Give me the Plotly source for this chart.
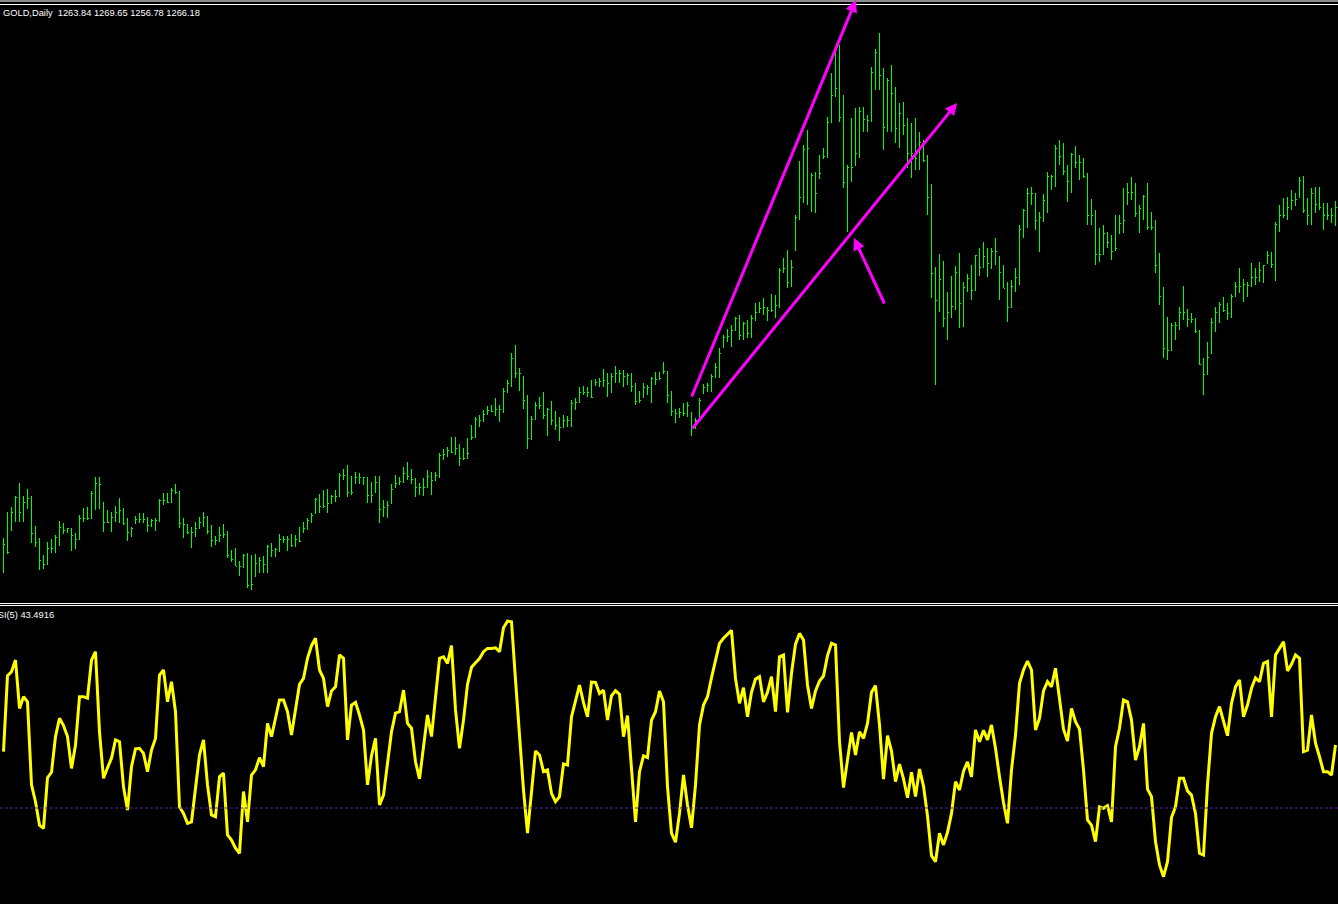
import plotly.graph_objects as go

# ---------------- data ----------------
symbol_label = "GOLD,Daily"
header_ohlc = ["1263.84", "1269.65", "1256.78", "1266.18"]
rsi_name = "RSI(5)"
rsi_last = "43.4916"
rsi_level = 30

open_ = [1096, 1098, 1105, 1114, 1121.5, 1114, 1119, 1121, 1103.5, 1099,
         1090, 1088, 1096, 1096, 1101.5, 1106.5, 1105, 1106, 1102.5, 1100.5,
         1111, 1111, 1111, 1123.5, 1128.5, 1119, 1109, 1109, 1111.5, 1114,
         1115, 1108.5, 1104, 1108.5, 1110.5, 1110.5, 1110.5, 1107.5, 1110, 1110,
         1120, 1120, 1119, 1125, 1124, 1108.5, 1108, 1104, 1104, 1106,
         1109, 1111.5, 1104.5, 1100, 1100, 1102.5, 1103, 1092.5, 1090.5, 1087,
         1087, 1092.5, 1077.5, 1082, 1088.5, 1090, 1088, 1097, 1095, 1095.5,
         1100.5, 1100.5, 1100.5, 1097.5, 1100.5, 1104, 1106, 1110, 1113.5, 1120.5,
         1117, 1117, 1118.5, 1122, 1122, 1132.5, 1132.5, 1124, 1128.5, 1131.5,
         1131.5, 1131.5, 1122.5, 1124, 1129, 1115.5, 1116.5, 1118.5, 1126.5, 1128.5,
         1129.5, 1133.5, 1132, 1130.5, 1126.5, 1126.5, 1126.5, 1132, 1130, 1132.5,
         1142.5, 1143, 1145, 1144, 1146, 1141, 1141, 1150.5, 1151.5, 1160.5,
         1160, 1163, 1165, 1164.5, 1165.5, 1165.5, 1174.5, 1178.5, 1191, 1183.5,
         1182, 1170, 1151, 1160.5, 1167.5, 1167.5, 1162.5, 1165.5, 1160, 1157.5,
         1156.5, 1160, 1160, 1168.5, 1169, 1174, 1174, 1174, 1177.5, 1179,
         1179.5, 1180, 1178.5, 1182, 1183.5, 1183.5, 1182, 1182.5, 1177, 1169.5,
         1171.5, 1176.5, 1176.5, 1181, 1180.5, 1183.5, 1184.5, 1172.5, 1164.5, 1163.5,
         1164, 1163.5, 1164, 1156.5, 1160, 1173.5, 1176.5, 1177.5, 1182, 1186.5,
         1196.5, 1201.5, 1202, 1205, 1211, 1202.5, 1208.5, 1203.5, 1211, 1214,
         1216, 1216.5, 1215, 1215, 1217.5, 1235, 1236, 1229, 1245, 1261.5,
         1271.5, 1295.5, 1283.5, 1282.5, 1281, 1291, 1292, 1309, 1322.5, 1326,
         1311.5, 1279, 1286.5, 1287.5, 1293.5, 1314.5, 1310.5, 1310, 1334, 1344,
         1332.5, 1306.5, 1330, 1323.5, 1306, 1313.5, 1307.5, 1293.5, 1293.5, 1291,
         1299, 1290, 1271.5, 1233.5, 1220, 1230.5, 1211, 1214, 1217, 1234,
         1218.5, 1226.5, 1231, 1225, 1242.5, 1236.5, 1242, 1238.5, 1244.5, 1242,
         1234, 1226, 1216.5, 1227, 1231.5, 1255.5, 1265, 1273.5, 1273.5, 1260,
         1261.5, 1270, 1282, 1282, 1296, 1292, 1284.5, 1279.5, 1293, 1289,
         1289, 1282, 1262.5, 1262.5, 1243, 1243, 1253.5, 1249, 1245, 1253.5,
         1258.5, 1268, 1274, 1274, 1263.5, 1266, 1272, 1256.5, 1256.5, 1237.5,
         1222, 1196, 1195, 1207.5, 1207.5, 1214, 1214, 1210.5, 1210.5, 1204.5,
         1188, 1183, 1193.5, 1209, 1214, 1218, 1215, 1213.5, 1222, 1227,
         1227, 1228, 1227.5, 1231.5, 1231.5, 1235, 1238.5, 1242.5, 1238, 1258,
         1262.5, 1262.5, 1266.5, 1270, 1271.5, 1280, 1265, 1262.5, 1273.5, 1268,
         1266.5, 1262.5, 1262.5, 1263.84]

high = [1101, 1114, 1116.5, 1122, 1128.5, 1122, 1125.5, 1122, 1107, 1101,
        1092.5, 1099, 1100.5, 1102.5, 1109.5, 1108.5, 1106, 1106, 1103.5, 1112.5,
        1116, 1116.5, 1124.5, 1131.5, 1131.5, 1119, 1115, 1114, 1117, 1121,
        1116, 1111, 1106.5, 1112, 1113.5, 1113.5, 1111.5, 1110.5, 1111, 1120.5,
        1123.5, 1123.5, 1126, 1128, 1124.5, 1111, 1108, 1106.5, 1109, 1111.5,
        1114, 1112, 1107.5, 1102, 1106.5, 1108, 1104.5, 1095, 1096, 1089.5,
        1093, 1093.5, 1092.5, 1093, 1091.5, 1092, 1097.5, 1098.5, 1096, 1103,
        1102, 1102, 1103, 1102.5, 1106.5, 1109, 1111, 1113.5, 1121, 1123,
        1125, 1125.5, 1122.5, 1125, 1133.5, 1135.5, 1137.5, 1132, 1134, 1133.5,
        1131.5, 1131.5, 1129, 1132, 1132, 1120, 1119.5, 1128, 1132.5, 1131.5,
        1136.5, 1139, 1135.5, 1131, 1128.5, 1131, 1135, 1134, 1134, 1143.5,
        1145.5, 1146.5, 1151.5, 1151.5, 1148, 1146, 1151, 1157.5, 1161.5, 1162.5,
        1165, 1167, 1167.5, 1171, 1167.5, 1176, 1180, 1193.5, 1197.5, 1186,
        1182, 1172.5, 1162, 1169, 1171.5, 1174, 1166, 1169.5, 1164.5, 1161.5,
        1162.5, 1162, 1170, 1171, 1176.5, 1177, 1176.5, 1180, 1180.5, 1181,
        1185.5, 1183.5, 1183.5, 1187, 1185, 1185, 1183.5, 1183.5, 1178.5, 1174.5,
        1178.5, 1177.5, 1181.5, 1184, 1184, 1189, 1184.5, 1174.5, 1165.5, 1166,
        1168.5, 1169, 1164, 1161, 1171, 1178, 1178.5, 1183, 1188.5, 1196,
        1202.5, 1205.5, 1207.5, 1211.5, 1212.5, 1209, 1210, 1212.5, 1218.5, 1219,
        1221, 1216.5, 1223, 1222.5, 1236, 1241, 1245, 1240, 1262.5, 1289.5,
        1297.5, 1305, 1283.5, 1284, 1292.5, 1296, 1311.5, 1333.5, 1343.5, 1347.5,
        1322.5, 1287.5, 1311, 1316, 1316.5, 1316.5, 1312.5, 1336.5, 1345.5, 1353.5,
        1336, 1331, 1337.5, 1326.5, 1318.5, 1319, 1311, 1308.5, 1311, 1304,
        1300, 1292.5, 1278, 1236.5, 1243, 1239.5, 1224, 1232, 1237, 1243.5,
        1229, 1233, 1237.5, 1242.5, 1246, 1249, 1246, 1246, 1251, 1242,
        1237.5, 1229, 1230, 1236, 1257.5, 1265.5, 1276, 1276.5, 1273.5, 1264,
        1273, 1284, 1282.5, 1297.5, 1300, 1298.5, 1287.5, 1293.5, 1297, 1292.5,
        1291, 1283.5, 1270.5, 1265, 1256, 1257.5, 1254, 1252.5, 1262.5, 1262.5,
        1276, 1278.5, 1281.5, 1278.5, 1267.5, 1272.5, 1278.5, 1264, 1260, 1243.5,
        1226.5, 1211.5, 1208.5, 1209, 1216.5, 1227, 1215.5, 1213.5, 1211, 1205,
        1191, 1199, 1211, 1216.5, 1219, 1221.5, 1218.5, 1223, 1229, 1236,
        1230.5, 1229, 1238.5, 1236, 1239, 1237.5, 1244.5, 1244, 1259, 1267.5,
        1271, 1271.5, 1275, 1273.5, 1281.5, 1282, 1271, 1276, 1276.5, 1276.5,
        1268.5, 1268.5, 1266, 1269.65]

low = [1083.5, 1093, 1105, 1109, 1109, 1109, 1115.5, 1098.5, 1096.5, 1085,
       1085.5, 1088, 1093.5, 1093.5, 1097, 1103, 1103.5, 1094.5, 1095.5, 1100,
       1109, 1110, 1110.5, 1115, 1115.5, 1104, 1108.5, 1104, 1109, 1108.5,
       1107.5, 1099.5, 1101.5, 1108.5, 1108.5, 1108.5, 1104, 1106.5, 1104.5, 1109,
       1117.5, 1118.5, 1119, 1123, 1106, 1101, 1103, 1096, 1101.5, 1106,
       1106.5, 1103, 1096.5, 1097.5, 1099, 1101, 1091, 1089, 1087, 1082,
       1086, 1076, 1075, 1082, 1083.5, 1083.5, 1083.5, 1091.5, 1091.5, 1094,
       1098.5, 1094.5, 1096.5, 1096.5, 1099, 1104, 1105, 1108.5, 1113.5, 1113.5,
       1116, 1113.5, 1118.5, 1119, 1121.5, 1130, 1121.5, 1122.5, 1128.5, 1128,
       1127.5, 1118.5, 1118.5, 1124, 1108.5, 1111.5, 1111, 1118.5, 1126.5, 1127.5,
       1128.5, 1130, 1128, 1121.5, 1122.5, 1122, 1126.5, 1122.5, 1130, 1131,
       1140, 1141.5, 1143.5, 1142.5, 1137, 1140, 1141, 1150.5, 1151.5, 1156.5,
       1159, 1162.5, 1164, 1162, 1159, 1163.5, 1173.5, 1176.5, 1181, 1174.5,
       1165.5, 1145.5, 1150, 1160, 1165.5, 1160.5, 1152, 1157.5, 1155, 1149.5,
       1156.5, 1156.5, 1156.5, 1165, 1168.5, 1172.5, 1171.5, 1171, 1177.5, 1176.5,
       1176.5, 1171.5, 1173.5, 1178.5, 1178.5, 1176.5, 1177.5, 1174, 1167.5, 1168.5,
       1171.5, 1172.5, 1168.5, 1177.5, 1180.5, 1183.5, 1168.5, 1162, 1158.5, 1161,
       1162, 1161.5, 1152, 1155.5, 1160, 1173.5, 1174, 1174, 1181, 1181,
       1196.5, 1199, 1196.5, 1205, 1200, 1200, 1201, 1201, 1209.5, 1213.5,
       1212.5, 1209.5, 1214, 1211, 1216, 1233.5, 1226, 1226.5, 1245, 1260,
       1268.5, 1267.5, 1264, 1263.5, 1281, 1291, 1291, 1309, 1321.5, 1309,
       1276, 1254, 1279, 1287.5, 1291, 1304, 1304, 1309, 1325, 1325,
       1295, 1304, 1304, 1298.5, 1296, 1302.5, 1286, 1281, 1285, 1285,
       1289, 1262.5, 1221, 1177.5, 1214, 1206.5, 1200, 1211, 1215, 1206,
       1206.5, 1224, 1220, 1225, 1232, 1236, 1231.5, 1235.5, 1237.5, 1220,
       1226, 1209, 1216.5, 1224, 1227.5, 1251, 1256, 1267.5, 1255, 1244,
       1259, 1263.5, 1275, 1276.5, 1287.5, 1282.5, 1269, 1273.5, 1286, 1280,
       1281, 1257.5, 1257.5, 1237.5, 1239, 1242.5, 1246, 1240, 1245, 1253.5,
       1253.5, 1268, 1270, 1261.5, 1253.5, 1260, 1255, 1255, 1233.5, 1217.5,
       1191, 1190, 1195, 1200, 1205, 1210, 1206.5, 1208.5, 1203.5, 1187.5,
       1172.5, 1182.5, 1193.5, 1204, 1208.5, 1214, 1210, 1211, 1221.5, 1223.5,
       1219, 1221.5, 1226.5, 1227.5, 1229, 1228.5, 1238.5, 1236, 1229.5, 1254,
       1261, 1260, 1265, 1267, 1271.5, 1263.5, 1257.5, 1257.5, 1263.5, 1265,
       1255, 1260, 1258.5, 1256.78]

close = [1098, 1094, 1114, 1121.5, 1114, 1119, 1121, 1103.5, 1099, 1090,
         1088, 1096, 1096, 1101.5, 1106.5, 1105, 1106, 1102.5, 1100.5, 1111,
         1111, 1111, 1123.5, 1128.5, 1128, 1109, 1109, 1111.5, 1114, 1115,
         1108.5, 1104, 1106, 1110.5, 1110.5, 1110.5, 1107.5, 1110, 1110, 1120,
         1120, 1119, 1125, 1124, 1108.5, 1108, 1104, 1104, 1106, 1109,
         1111.5, 1104.5, 1100, 1100, 1102.5, 1103, 1092.5, 1090.5, 1087, 1087,
         1092.5, 1077.5, 1078, 1088.5, 1090, 1088, 1097, 1095, 1095.5, 1100.5,
         1100.5, 1100.5, 1097.5, 1100.5, 1099.5, 1106, 1110, 1112.5, 1120.5, 1117,
         1117, 1118.5, 1122, 1122, 1132.5, 1132.5, 1124, 1124, 1131.5, 1131.5,
         1131.5, 1122.5, 1122.5, 1129, 1115.5, 1116.5, 1117.5, 1125.5, 1128.5, 1129.5,
         1133.5, 1132, 1130.5, 1126.5, 1126.5, 1126.5, 1132, 1130, 1132.5, 1142.5,
         1143, 1145, 1144, 1146, 1141, 1141, 1143.5, 1151.5, 1160.5, 1160,
         1163, 1165, 1164.5, 1165.5, 1165.5, 1174.5, 1178.5, 1191, 1183.5, 1183.5,
         1170, 1151, 1160.5, 1167.5, 1167.5, 1162.5, 1165.5, 1160, 1157.5, 1156.5,
         1160, 1160, 1168.5, 1169, 1174, 1174, 1174, 1171.5, 1179, 1179.5,
         1180, 1178.5, 1182, 1183.5, 1183.5, 1182, 1182.5, 1177, 1169.5, 1170,
         1176.5, 1176.5, 1181, 1180.5, 1181, 1184.5, 1172.5, 1164.5, 1163.5, 1164,
         1163.5, 1167.5, 1156.5, 1160, 1170, 1176.5, 1177.5, 1182, 1186.5, 1193.5,
         1201.5, 1202, 1205, 1211, 1202.5, 1208.5, 1203.5, 1211, 1214, 1216,
         1216.5, 1215, 1215, 1217.5, 1235, 1236, 1229, 1236.5, 1261.5, 1271.5,
         1295.5, 1296, 1282.5, 1273.5, 1283.5, 1292, 1309, 1322.5, 1326, 1311.5,
         1279, 1286.5, 1286.5, 1293.5, 1314.5, 1310.5, 1310, 1334, 1344, 1332.5,
         1306.5, 1330, 1323.5, 1306, 1313.5, 1307.5, 1293.5, 1293.5, 1291, 1299,
         1290, 1271.5, 1233.5, 1220, 1230.5, 1211, 1214, 1217, 1234, 1218.5,
         1226.5, 1231, 1225, 1242.5, 1236.5, 1242, 1238.5, 1244.5, 1244.5, 1234,
         1226, 1216.5, 1227, 1231.5, 1255.5, 1265, 1273.5, 1273.5, 1260, 1261.5,
         1270, 1282, 1282, 1296, 1292, 1284.5, 1279.5, 1293, 1289, 1289,
         1282, 1262.5, 1262.5, 1243, 1243, 1253.5, 1249, 1244.5, 1246, 1258.5,
         1260, 1274, 1274, 1263.5, 1266, 1272, 1256.5, 1256.5, 1237.5, 1222,
         1196, 1195, 1207.5, 1207.5, 1214, 1214, 1210.5, 1210.5, 1204.5, 1188,
         1183, 1191.5, 1209, 1214, 1218, 1215, 1213.5, 1222, 1227, 1227,
         1228, 1227.5, 1231.5, 1231.5, 1235, 1237.5, 1242.5, 1238, 1258, 1262.5,
         1262.5, 1266.5, 1270, 1270.5, 1280, 1265, 1262.5, 1273.5, 1268, 1266.5,
         1262.5, 1262.5, 1262.5, 1266.18]

rsi = [48.8, 74.1, 75.4, 79.3, 63.2, 67.1, 65.4, 37.7, 32.1, 24.3,
       23.2, 40.1, 41.9, 53.8, 59.9, 57.5, 53.8, 43.2, 51.0, 67.1,
       67.1, 66.6, 79.3, 82.1, 55.4, 39.9, 43.4, 46.6, 52.7, 52.1,
       37.1, 29.3, 43.8, 49.7, 49.9, 48.2, 42.1, 49.3, 53.2, 74.3,
       76.0, 65.4, 72.1, 62.1, 30.4, 28.2, 24.9, 25.4, 36.6, 47.7,
       52.7, 37.7, 27.7, 27.1, 40.4, 41.6, 21.0, 19.3, 16.6, 14.9,
       35.5, 25.4, 41.0, 42.7, 46.8, 43.8, 58.2, 53.8, 59.9, 66.0,
       66.0, 62.1, 54.3, 63.2, 71.2, 73.2, 79.9, 84.1, 86.6, 76.0,
       73.2, 63.8, 69.0, 70.4, 81.0, 79.9, 52.7, 64.3, 65.2, 61.0,
       56.0, 37.7, 47.4, 53.2, 31.0, 34.3, 44.3, 55.4, 61.6, 62.1,
       69.3, 58.2, 56.6, 45.4, 39.7, 49.9, 61.0, 53.8, 66.6, 79.9,
       80.4, 78.2, 84.1, 62.7, 49.9, 59.3, 71.2, 76.9, 78.4, 79.8,
       82.1, 83.2, 83.2, 83.4, 82.1, 90.1, 92.3, 92.1, 72.7, 53.2,
       36.0, 21.6, 36.0, 49.0, 47.7, 42.1, 42.7, 34.9, 32.1, 33.8,
       44.7, 44.3, 60.4, 66.0, 71.0, 65.1, 60.4, 72.0, 71.9, 68.2,
       69.3, 59.3, 67.4, 69.1, 67.9, 53.8, 60.8, 43.2, 25.4, 42.1,
       47.4, 46.8, 59.3, 62.1, 69.0, 65.4, 37.1, 21.6, 18.6, 28.2,
       41.0, 31.0, 23.4, 37.7, 57.7, 64.3, 67.1, 73.4, 79.3, 84.9,
       86.6, 87.9, 89.2, 73.2, 64.9, 70.1, 60.4, 68.6, 73.0, 73.8,
       65.4, 68.6, 73.8, 62.1, 80.4, 81.0, 61.9, 74.9, 84.6, 88.2,
       86.0, 71.0, 63.2, 69.0, 72.3, 74.0, 80.8, 84.9, 84.3, 52.1,
       36.8, 46.0, 55.2, 47.7, 55.4, 53.2, 58.2, 68.6, 70.8, 57.7,
       39.6, 54.1, 49.0, 38.8, 44.6, 39.7, 33.4, 41.9, 33.8, 43.0,
       37.3, 27.4, 14.1, 12.1, 21.6, 17.7, 21.9, 28.2, 38.8, 36.0,
       42.3, 45.4, 40.4, 56.0, 52.1, 55.9, 52.7, 57.7, 49.9, 40.4,
       31.8, 24.9, 42.7, 54.3, 71.6, 76.0, 79.0, 76.0, 56.0, 59.9,
       69.0, 72.1, 70.4, 76.6, 66.6, 56.3, 52.3, 63.2, 58.8, 56.3,
       42.7, 26.0, 24.3, 18.8, 30.4, 29.9, 30.8, 25.4, 50.4, 56.6,
       66.0, 65.4, 59.3, 46.0, 50.4, 58.2, 36.3, 33.8, 18.8, 11.0,
       7.1, 12.1, 26.8, 30.4, 39.9, 39.9, 35.7, 34.3, 28.2, 14.9,
       14.3, 37.7, 54.9, 60.4, 63.8, 58.8, 54.1, 64.9, 70.4, 72.7,
       60.4, 64.3, 69.9, 73.4, 72.1, 78.2, 78.8, 60.4, 81.0, 83.2,
       85.4, 75.7, 77.9, 81.0, 79.9, 48.8, 49.3, 61.0, 51.6, 47.1,
       42.1, 42.1, 41.0, 51.0]

# hand-drawn arrows on the chart (bar index, price)
arrow_tail_x = [171.9, 171.9, 220.4]
arrow_tail_y = [1171.0, 1155.0, 1217.5]
arrow_tip_x = [213.1, 238.4, 212.6]
arrow_tip_y = [1370.0, 1318.5, 1251.0]

n = len(close)
assert len(open_) == n and len(high) == n and len(low) == n and len(rsi) == n, \
    (len(open_), len(high), len(low), len(close), len(rsi))
bar_index = list(range(n))

# ---------------- layout geometry (pixels) ----------------
W, H = 1338, 904
def py(p):
    return 1 - p / H

x_range = [-0.875, n - 0.375]
main_top, main_bottom = 0, 602
rsi_top, rsi_bottom = 606, 904
price_range = [1069, 1370]
rsi_range = [-2, 97.333]

fig = go.Figure()
fig.add_trace(go.Ohlc(
    x=bar_index, open=open_, high=high, low=low, close=close,
    increasing=dict(line=dict(color="#00FF00", width=1)),
    decreasing=dict(line=dict(color="#00FF00", width=1)),
    tickwidth=0.25, hoverinfo="skip", xaxis="x", yaxis="y", showlegend=False))

fig.add_trace(go.Scatter(
    x=bar_index, y=rsi, mode="lines",
    line=dict(color="#FFFF00", width=3),
    hoverinfo="skip", xaxis="x2", yaxis="y2", showlegend=False))

shapes = [
    dict(type="line", xref="paper", yref="paper", x0=0, x1=1, y0=py(1), y1=py(1),
         line=dict(color="#8c8c8c", width=2)),
    dict(type="line", xref="paper", yref="paper", x0=0, x1=1, y0=py(4.5), y1=py(4.5),
         line=dict(color="#FFFFFF", width=1)),
    dict(type="line", xref="paper", yref="paper", x0=0, x1=1, y0=py(603.5), y1=py(603.5),
         line=dict(color="#FFFFFF", width=1)),
    dict(type="line", xref="paper", yref="paper", x0=0, x1=1, y0=py(605.5), y1=py(605.5),
         line=dict(color="#FFFFFF", width=1)),
    dict(type="line", xref="paper", yref="y2", x0=0, x1=1, y0=rsi_level, y1=rsi_level,
         line=dict(color="#5a1e9e", width=1, dash="3px,2px")),
]

annotations = [
    dict(text="\u00a0\u00a0".join([symbol_label, " ".join(header_ohlc)]),
         xref="paper", yref="paper", x=1 / W, y=py(12.5), xanchor="left", yanchor="middle",
         showarrow=False, font=dict(family="Liberation Sans", size=9.3, color="#FFFFFF")),
    dict(text=rsi_name + " " + rsi_last,
         xref="paper", yref="paper", x=56 / W, y=py(614.5), xanchor="right", yanchor="middle",
         showarrow=False, font=dict(family="Liberation Sans", size=9.3, color="#FFFFFF")),
]
for tx, ty, hx, hy in zip(arrow_tail_x, arrow_tail_y, arrow_tip_x, arrow_tip_y):
    annotations.append(dict(
        x=hx, y=hy, ax=tx, ay=ty, xref="x", yref="y", axref="x", ayref="y",
        text="", showarrow=True, arrowhead=2, arrowsize=0.8, arrowwidth=3,
        arrowcolor="#FF00FF", standoff=0, startstandoff=0))

axis_off = dict(showgrid=False, zeroline=False, showticklabels=False, showline=False,
                ticks="", fixedrange=True)
fig.update_layout(
    width=W, height=H,
    margin=dict(l=0, r=0, t=0, b=0, pad=0),
    paper_bgcolor="#000000", plot_bgcolor="#000000",
    xaxis=dict(domain=[0, 1], range=x_range, anchor="y",
               rangeslider=dict(visible=False), **axis_off),
    yaxis=dict(domain=[py(main_bottom), py(main_top)], range=price_range, anchor="x", **axis_off),
    xaxis2=dict(domain=[0, 1], range=x_range, anchor="y2", **axis_off),
    yaxis2=dict(domain=[py(rsi_bottom), py(rsi_top)], range=rsi_range, anchor="x2", **axis_off),
    shapes=shapes, annotations=annotations, showlegend=False,
)

page_fix = (
    "var st=document.createElement('style');"
    "st.textContent='html,body{margin:0!important;padding:0!important;background:#000!important;}"
    " .ohlclayer path{shape-rendering:crispEdges!important;}';"
    "document.head.appendChild(st);"
)
fig.write_html("out.html", config={"displayModeBar": False}, post_script=page_fix)
